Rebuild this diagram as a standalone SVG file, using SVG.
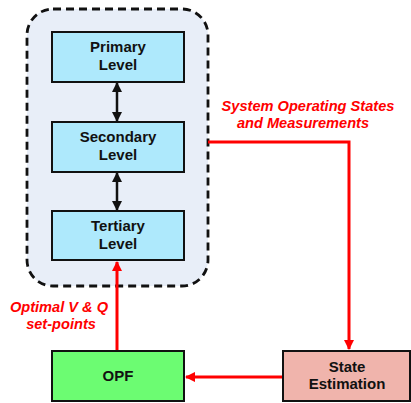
<svg xmlns="http://www.w3.org/2000/svg" width="411" height="403" viewBox="0 0 411 403">
<style>
.node{stroke:#111;stroke-width:2}
.lv{fill:#aee9fc}
.t{font-family:"Liberation Sans",Arial,sans-serif;font-weight:bold;font-size:15px;fill:#111;text-anchor:middle}
.r{font-family:"Liberation Sans",Arial,sans-serif;font-weight:bold;font-style:italic;font-size:14.6px;fill:#ff0000;text-anchor:middle}
.bk{stroke:#111;stroke-width:2.5;fill:none}
.rd{stroke:#ff0000;stroke-width:3;fill:none}
</style>
<defs>
<marker id="ab" viewBox="0 0 10 10" refX="9" refY="5" markerWidth="4" markerHeight="4" orient="auto-start-reverse"><path d="M0,0 L10,5 L0,10 z" fill="#111"/></marker>
<marker id="ar" viewBox="0 0 10 10" refX="9" refY="5" markerWidth="3.5" markerHeight="3.5" orient="auto"><path d="M0,0 L10,5 L0,10 z" fill="#ff0000"/></marker>
</defs>
<g id="container">
<rect x="27" y="9" width="181" height="277" rx="26" ry="26" fill="#e8eef8" stroke="#111" stroke-width="2.8" stroke-dasharray="8,5"/>
</g>
<g id="connectors">
<line class="bk" x1="117" y1="83" x2="117" y2="121" marker-start="url(#ab)" marker-end="url(#ab)"/>
<line class="bk" x1="117" y1="173" x2="117" y2="210" marker-start="url(#ab)" marker-end="url(#ab)"/>
<polyline class="rd" points="208,142 349,142 349,349" marker-end="url(#ar)"/>
<line class="rd" x1="283" y1="377" x2="186" y2="377" marker-end="url(#ar)"/>
<line class="rd" x1="117" y1="351" x2="117" y2="262" marker-end="url(#ar)"/>
<text class="r" x="308" y="111">System Operating States</text>
<text class="r" x="303" y="128">and Measurements</text>
<text class="r" x="59" y="312">Optimal V &amp; Q</text>
<text class="r" x="61" y="329">set-points</text>
</g>
<g id="primary">
<rect class="node lv" x="52" y="32" width="132" height="50"/>
<text class="t" x="118" y="52">Primary</text>
<text class="t" x="118" y="70">Level</text>
</g>
<g id="secondary">
<rect class="node lv" x="52" y="122" width="132" height="50"/>
<text class="t" x="118" y="142">Secondary</text>
<text class="t" x="118" y="160">Level</text>
</g>
<g id="tertiary">
<rect class="node lv" x="52" y="211" width="132" height="49"/>
<text class="t" x="118" y="231">Tertiary</text>
<text class="t" x="118" y="249">Level</text>
</g>
<g id="opf">
<rect class="node" x="52" y="351" width="132" height="50" fill="#6cfc72"/>
<text class="t" x="118" y="381">OPF</text>
</g>
<g id="state-estimation">
<rect class="node" x="283" y="351" width="127" height="50" fill="#f0b4ac"/>
<text class="t" x="347" y="372">State</text>
<text class="t" x="347" y="389">Estimation</text>
</g>
</svg>
